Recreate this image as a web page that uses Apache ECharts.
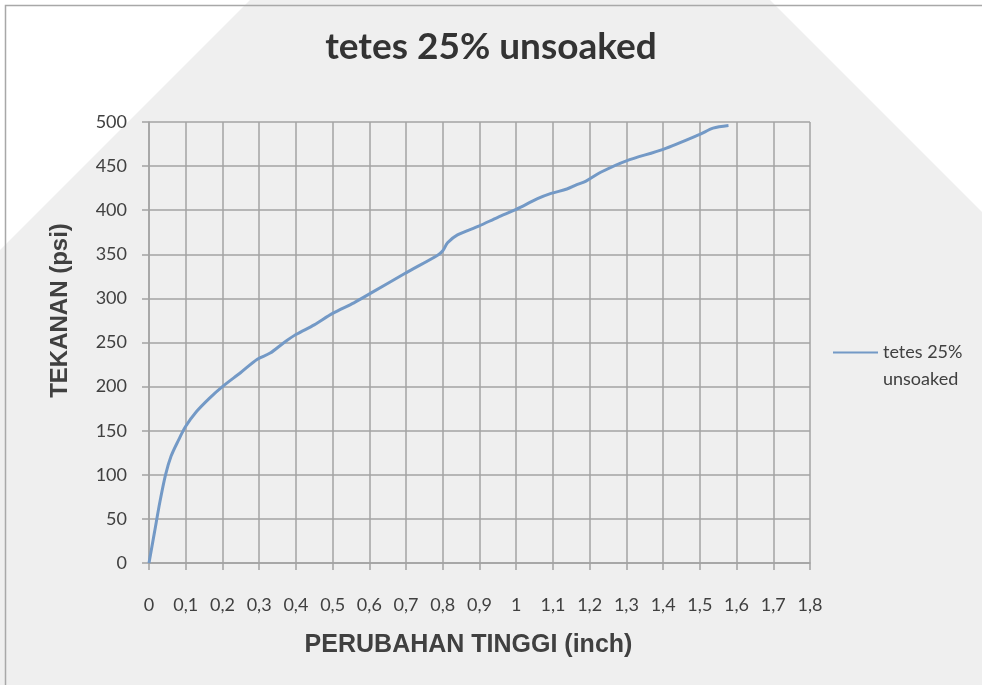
<!DOCTYPE html>
<html>
<head>
<meta charset="utf-8">
<script src="https://cdn.jsdelivr.net/npm/echarts@6/dist/echarts.min.js"></script>
<style>
html,body{margin:0;padding:0;background:#fff;}
#chart{width:982px;height:685px;}
</style>
</head>
<body>
<div id="chart"></div>
<script>
// perubahan tinggi (inch) vs tekanan (psi)
var xData = [0, 0.015, 0.03, 0.045, 0.06, 0.08, 0.1, 0.13, 0.165, 0.2, 0.25, 0.295, 0.33, 0.368, 0.4, 0.45, 0.5, 0.558, 0.604, 0.7, 0.786, 0.8, 0.813, 0.84, 0.898, 0.95, 1.0, 1.058, 1.095, 1.138, 1.165, 1.19, 1.23, 1.3, 1.4, 1.5, 1.536, 1.578]
var yData = [0, 35, 70, 100, 121, 139, 155, 172, 187, 200, 216, 231, 238, 250, 259, 270, 283, 295, 306, 329, 349, 354, 363, 372, 382, 392, 401, 413, 419, 424, 429, 433, 443, 456, 469, 486, 493, 496]
var seriesName = 'tetes 25% unsoaked'
var xTicks = {min: 0, max: 1.8, interval: 0.1}
var yTicks = {min: 0, max: 500, interval: 50}

var points = []
for (var i = 0; i < xData.length; i++) {
    points.push([xData[i], yData[i]])
}

var gridColor = '#a3a3a3'
var labelFont = 'Lato'

var myChart = echarts.init(document.getElementById('chart'))
var option = {
    backgroundColor: '#ffffff',
    animation: false,
    graphic: [
        {
            type: 'polygon',
            z: -10,
            shape: {points: [[250, 0], [770, 0], [1455, 685], [-435, 685]]},
            style: {fill: '#efefef'}
        },
        {
            type: 'rect',
            z: -9,
            shape: {x: 5.5, y: 5.5, width: 1000, height: 700},
            style: {fill: 'none', stroke: '#a8a8a8', lineWidth: 1.5}
        }
    ],
    title: {
        text: 'tetes 25% unsoaked',
        left: 'center',
        top: 24,
        padding: [5, 5, 5, 20],
        textStyle: {fontFamily: labelFont, fontWeight: 'bold', fontSize: 37, color: '#333333'}
    },
    legend: {
        left: 828,
        top: 307,
        itemWidth: 45,
        itemHeight: 14,
        itemGap: 0,
        icon: 'path://M0,6L45,6L45,8L0,8Z',
        // blank first line keeps the icon level with "tetes 25%"
        formatter: function () { return ' \ntetes 25%\nunsoaked' },
        textStyle: {fontFamily: labelFont, fontSize: 18, color: '#404040', lineHeight: 27},
        data: [seriesName]
    },
    grid: {left: 149, right: 172, top: 122, bottom: 122},
    xAxis: {
        type: 'value',
        min: xTicks.min,
        max: xTicks.max,
        interval: xTicks.interval,
        name: 'PERUBAHAN TINGGI (inch)',
        nameLocation: 'middle',
        nameGap: 70,
        nameTextStyle: {fontFamily: 'Liberation Sans', fontWeight: 'bold', fontSize: 25, color: '#404040', padding: [0, 22, 0, 0]},
        axisLine: {lineStyle: {color: gridColor, width: 1.5}},
        axisTick: {show: true, length: 7, lineStyle: {color: gridColor, width: 1.5}},
        axisLabel: {
            margin: 33,
            fontFamily: labelFont,
            fontSize: 18,
            color: '#404040',
            formatter: function (v) {
                return String(Math.round(v * 10) / 10).replace('.', ',')
            }
        },
        splitLine: {show: true, lineStyle: {color: gridColor, width: 1.5}}
    },
    yAxis: {
        type: 'value',
        min: yTicks.min,
        max: yTicks.max,
        interval: yTicks.interval,
        name: 'TEKANAN (psi)',
        nameLocation: 'middle',
        nameGap: 77,
        nameTextStyle: {fontFamily: 'Liberation Sans', fontWeight: 'bold', fontSize: 24, color: '#404040', padding: [0, 0, 0, 64]},
        axisLine: {show: true, lineStyle: {color: gridColor, width: 1.5}},
        axisTick: {show: true, length: 7, lineStyle: {color: gridColor, width: 1.5}},
        axisLabel: {margin: 22, fontFamily: labelFont, fontSize: 18, color: '#404040'},
        splitLine: {show: true, lineStyle: {color: gridColor, width: 1.5}}
    },
    series: [
        {
            name: seriesName,
            type: 'line',
            data: points,
            smooth: 0.3,
            showSymbol: false,
            color: '#7399c6',
            lineStyle: {color: '#7399c6', width: 3}
        }
    ]
}
myChart.setOption(option)
</script>
</body>
</html>
